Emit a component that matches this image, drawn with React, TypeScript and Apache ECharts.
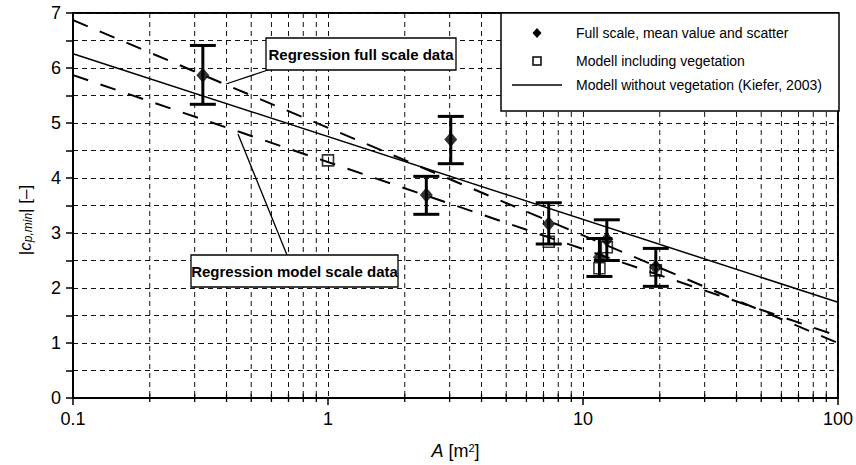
import React, { useEffect, useRef } from "react";
import * as echarts from "echarts";

// ---- Data ----
// Full scale: mean value and scatter (min / max)
const fullArea = [0.323, 3.03, 2.43, 7.34, 12.4, 11.6, 19.3];
const fullMean = [5.87, 4.70, 3.69, 3.17, 2.88, 2.56, 2.38];
const fullLow = [5.34, 4.26, 3.34, 2.80, 2.50, 2.21, 2.03];
const fullHigh = [6.41, 5.12, 4.03, 3.55, 3.24, 2.90, 2.72];

// Model including vegetation
const modelArea = [1.0, 7.34, 11.6, 12.4, 19.3];
const modelValue = [4.32, 2.84, 2.36, 2.74, 2.32];

// Lines (straight in log-x)
const kieferX = [0.1, 100];
const kieferY = [6.26, 1.74];
const regFullX = [0.1, 100];
const regFullY = [6.87, 1.0];
const regModelX = [0.1, 94];
const regModelY = [5.87, 1.17];

// Axis settings
const xMin = 0.1;
const xMax = 100;
const yMin = 0;
const yMax = 7;
const xMinorGrid = [
  0.2, 0.3, 0.4, 0.5, 0.6, 0.7, 0.8, 0.9,
  2, 3, 4, 5, 6, 7, 8, 9,
  20, 30, 40, 50, 60, 70, 80, 90,
];

const FONT = "'Liberation Sans', Arial, sans-serif";

export default function App() {
  const ref = useRef<HTMLDivElement>(null);

  useEffect(() => {
    if (!ref.current) return;
    const chart = echarts.init(ref.current, undefined, { renderer: "svg" });

    const dash = [5, 4];
    const Z = 100;

    const option: any = {
      animation: false,
      backgroundColor: "#fff",
      grid: {
        left: 73,
        right: 17,
        top: 13,
        bottom: 67,
        show: true,
        borderColor: "#000",
        borderWidth: 2,
        backgroundColor: "transparent",
      },
      xAxis: {
        type: "log",
        logBase: 10,
        min: xMin,
        max: xMax,
        axisLine: { show: true, lineStyle: { color: "#000", width: 2 } },
        axisTick: { show: true, length: 7, lineStyle: { color: "#000", width: 1.5 } },
        axisLabel: {
          color: "#000",
          fontSize: 18,
          fontFamily: FONT,
          margin: 12,
          formatter: (v: number) => String(Number(v.toPrecision(3))),
        },
        splitLine: { show: true, lineStyle: { color: "#111", type: dash, width: 1 } },
        name: "{i|A} [m{s|2}]",
        nameLocation: "middle",
        nameGap: 44,
        nameTextStyle: {
          color: "#000",
          fontSize: 18,
          fontFamily: FONT,
          rich: {
            i: { fontStyle: "italic", fontSize: 18, fontFamily: FONT, color: "#000" },
            s: { fontSize: 11, fontFamily: FONT, color: "#000", verticalAlign: "top", lineHeight: 18 },
          },
        },
      },
      yAxis: {
        type: "value",
        min: yMin,
        max: yMax,
        interval: 1,
        axisLine: { show: true, lineStyle: { color: "#000", width: 2 } },
        axisTick: { show: true, length: 7, lineStyle: { color: "#000", width: 1.5 } },
        minorTick: { show: true, splitNumber: 2, length: 7, lineStyle: { color: "#000", width: 1.5 } },
        axisLabel: { color: "#000", fontSize: 18, fontFamily: FONT, margin: 12 },
        splitLine: { show: true, lineStyle: { color: "#111", type: dash, width: 1 } },
        minorSplitLine: { show: true, lineStyle: { color: "#111", type: dash, width: 1 } },
      },
      series: [
        {
          name: "minor grid",
          type: "custom",
          z: 1,
          silent: true,
          data: xMinorGrid.map((v) => [v, yMin]),
          encode: { x: 0, y: 1 },
          renderItem: (params: any, api: any) => {
            const v = api.value(0);
            const top = api.coord([v, yMax]);
            const bot = api.coord([v, yMin]);
            return {
              type: "group",
              children: [
                {
                  type: "line",
                  shape: { x1: top[0], y1: top[1], x2: bot[0], y2: bot[1] },
                  style: { stroke: "#111", lineWidth: 1, lineDash: dash },
                },
                {
                  type: "line",
                  shape: { x1: bot[0], y1: bot[1] - 4, x2: bot[0], y2: bot[1] + 4 },
                  style: { stroke: "#000", lineWidth: 1.3 },
                },
              ],
            };
          },
        },
        {
          name: "Modell without vegetation (Kiefer, 2003)",
          type: "line",
          z: 3,
          symbol: "none",
          data: kieferX.map((x, i) => [x, kieferY[i]]),
          lineStyle: { color: "#000", width: 1.5 },
        },
        {
          name: "Regression full scale data",
          type: "line",
          z: 3,
          symbol: "none",
          data: regFullX.map((x, i) => [x, regFullY[i]]),
          lineStyle: { color: "#000", width: 2, type: [16, 13] },
        },
        {
          name: "Regression model scale data",
          type: "line",
          z: 3,
          symbol: "none",
          data: regModelX.map((x, i) => [x, regModelY[i]]),
          lineStyle: { color: "#000", width: 2, type: [16, 13] },
        },
        {
          name: "scatter",
          type: "custom",
          z: 4,
          data: fullArea.map((x, i) => [x, fullLow[i], fullHigh[i]]),
          encode: { x: 0, y: [1, 2] },
          renderItem: (params: any, api: any) => {
            const x = api.value(0);
            const lo = api.coord([x, api.value(1)]);
            const hi = api.coord([x, api.value(2)]);
            const h = 13;
            const st = { stroke: "#000", lineWidth: 3 };
            return {
              type: "group",
              children: [
                { type: "line", shape: { x1: lo[0], y1: lo[1], x2: hi[0], y2: hi[1] }, style: st },
                { type: "line", shape: { x1: lo[0] - h, y1: lo[1], x2: lo[0] + h, y2: lo[1] }, style: st },
                { type: "line", shape: { x1: hi[0] - h, y1: hi[1], x2: hi[0] + h, y2: hi[1] }, style: st },
              ],
            };
          },
        },
        {
          name: "Full scale, mean value and scatter",
          type: "scatter",
          z: 5,
          symbol: "diamond",
          symbolSize: [13, 15],
          data: fullArea.map((x, i) => [x, fullMean[i]]),
          itemStyle: { color: "#000" },
        },
        {
          name: "Modell including vegetation",
          type: "scatter",
          z: 6,
          symbol: "rect",
          symbolSize: 11,
          data: modelArea.map((x, i) => [x, modelValue[i]]),
          itemStyle: { color: "rgba(0,0,0,0)", borderColor: "#000", borderWidth: 1.6 },
        },
      ],
      graphic: [
        // y axis title
        {
          type: "text",
          x: 25,
          y: 220,
          rotation: Math.PI / 2,
          z: Z,
          style: {
            text: "{n||}{i|c}{s|p,min}{n|| [–]}",
            align: "center",
            verticalAlign: "middle",
            fill: "#000",
            font: `17px ${FONT}`,
            rich: {
              n: { fontSize: 17, fontFamily: FONT, fill: "#000" } as any,
              i: { fontSize: 17, fontFamily: FONT, fontStyle: "italic", fill: "#000" } as any,
              s: { fontSize: 12, fontFamily: FONT, fontStyle: "italic", fill: "#000", verticalAlign: "bottom", padding: [6, 0, 0, 0] } as any,
            },
          },
        },
        // legend box
        {
          type: "rect",
          z: Z,
          shape: { x: 501, y: 13, width: 338, height: 98 },
          style: { fill: "#fff", stroke: "#000", lineWidth: 1.5 },
        },
        {
          type: "polygon",
          z: Z + 1,
          shape: { points: [[537, 28], [541.5, 33], [537, 38], [532.5, 33]] },
          style: { fill: "#000" },
        },
        {
          type: "rect",
          z: Z + 1,
          shape: { x: 533, y: 57, width: 8, height: 8 },
          style: { fill: "#fff", stroke: "#000", lineWidth: 1.5 },
        },
        {
          type: "line",
          z: Z + 1,
          shape: { x1: 512, y1: 85, x2: 562, y2: 85 },
          style: { stroke: "#000", lineWidth: 1.5 },
        },
        {
          type: "text",
          z: Z + 1,
          x: 576,
          y: 33,
          style: { text: "Full scale, mean value and scatter", font: `14px ${FONT}`, fill: "#000", verticalAlign: "middle" },
        },
        {
          type: "text",
          z: Z + 1,
          x: 576,
          y: 61,
          style: { text: "Modell including vegetation", font: `14px ${FONT}`, fill: "#000", verticalAlign: "middle" },
        },
        {
          type: "text",
          z: Z + 1,
          x: 576,
          y: 85,
          style: { text: "Modell without vegetation (Kiefer, 2003)", font: `14px ${FONT}`, fill: "#000", verticalAlign: "middle" },
        },
        // annotation: full scale regression
        {
          type: "line",
          z: Z,
          shape: { x1: 268, y1: 70, x2: 226, y2: 84 },
          style: { stroke: "#000", lineWidth: 1.3 },
        },
        {
          type: "rect",
          z: Z,
          shape: { x: 266, y: 38, width: 190, height: 32 },
          style: { fill: "#fff", stroke: "#000", lineWidth: 1.3 },
        },
        {
          type: "text",
          z: Z + 1,
          x: 361,
          y: 54,
          style: { text: "Regression full scale data", font: `bold 15px ${FONT}`, fill: "#000", align: "center", verticalAlign: "middle" },
        },
        // annotation: model scale regression
        {
          type: "line",
          z: Z,
          shape: { x1: 287, y1: 255, x2: 238, y2: 134 },
          style: { stroke: "#000", lineWidth: 1.3 },
        },
        {
          type: "rect",
          z: Z,
          shape: { x: 191, y: 255, width: 207, height: 32 },
          style: { fill: "#fff", stroke: "#000", lineWidth: 1.3 },
        },
        {
          type: "text",
          z: Z + 1,
          x: 294.5,
          y: 271,
          style: { text: "Regression model scale data", font: `bold 15px ${FONT}`, fill: "#000", align: "center", verticalAlign: "middle" },
        },
      ],
    };

    chart.setOption(option);
    return () => chart.dispose();
  }, []);

  return (
    <div
      ref={ref}
      style={{ position: "absolute", left: 0, top: 0, width: 856, height: 465, background: "#fff" }}
    />
  );
}
